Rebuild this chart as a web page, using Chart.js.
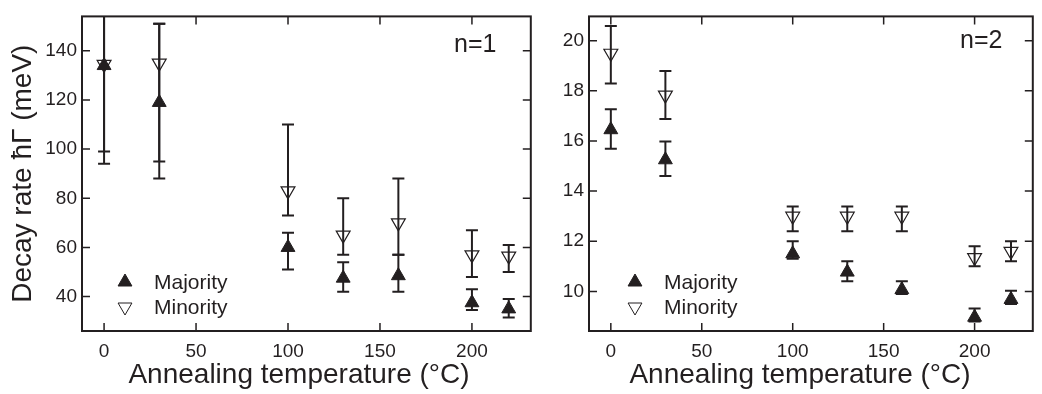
<!DOCTYPE html>
<html><head><meta charset="utf-8">
<script src="https://cdn.jsdelivr.net/npm/chart.js@4.4.0/dist/chart.umd.min.js"></script>
<style>
html,body{margin:0;padding:0;background:#fff;}
#wrap{position:relative;width:1042px;height:394px;overflow:hidden;background:#fff;}
#c1{position:absolute;left:0;top:0;}
#c2{position:absolute;left:540px;top:0;}
</style></head><body>
<div id="wrap"><canvas id="c1" width="540" height="394"></canvas><canvas id="c2" width="502" height="394"></canvas></div>
<script>
// ---- data ----
const temperatures = [0, 30, 100, 130, 160, 200, 220];
const xTickValues = [0, 50, 100, 150, 200];

// n = 1 panel (meV)
const yTickValues1 = [40, 60, 80, 100, 120, 140];
const majority1     = [134, 119, 60, 47.5, 48.5, 37.5, 35];
const majority1Low  = [94, 88, 51, 42, 42, 34.5, 31.5];
const majority1High = [174, 151, 66, 54, 57, 43, 39];
const minority1     = [134.5, 135, 83, 65, 70, 57, 56.5];
const minority1Low  = [99, 95, 73, 57, 57, 48, 50];
const minority1High = [173, 151, 110, 80, 88, 67, 61];

// n = 2 panel (meV)
const yTickValues2 = [10, 12, 14, 16, 18, 20];
const majority2     = [16.45, 15.25, 11.5, 10.77, 10.07, 8.97, 9.68];
const majority2Low  = [15.69, 14.6, 11.3, 10.4, 9.9, 8.8, 9.5];
const majority2High = [17.27, 15.98, 12.0, 11.2, 10.4, 9.32, 10.03];
const minority2     = [19.5, 17.83, 13.0, 13.0, 13.0, 11.35, 11.6];
const minority2Low  = [18.29, 16.88, 12.4, 12.4, 12.4, 11.0, 11.2];
const minority2High = [20.59, 18.79, 13.39, 13.39, 13.39, 11.8, 12.0];

const seriesNames = ['Majority', 'Minority'];
const xTitle = 'Annealing temperature (°C)';
const yTitle = 'Decay rate ħΓ (meV)';

// ---- styling ----
const INK = '#231f20';
const FONT = '"Liberation Sans", Arial, Helvetica, sans-serif';

const pts = (vals) => temperatures.map((t, i) => ({x: t, y: vals[i]}));

const errorBars = {
  id: 'errorBars',
  beforeDatasetsDraw(chart) {
    const {ctx, chartArea: a, scales: {x, y}} = chart;
    ctx.save();
    ctx.beginPath();
    ctx.rect(a.left, a.top, a.right - a.left, a.bottom - a.top);
    ctx.clip();
    ctx.strokeStyle = INK;
    ctx.lineWidth = 2;
    const cap = 6;
    chart.data.datasets.forEach(ds => {
      ds.data.forEach((p, i) => {
        const px = x.getPixelForValue(p.x);
        const y1 = y.getPixelForValue(ds.errLow[i]);
        const y2 = y.getPixelForValue(ds.errHigh[i]);
        ctx.beginPath();
        ctx.moveTo(px, y1); ctx.lineTo(px, y2);
        ctx.moveTo(px - cap, y1); ctx.lineTo(px + cap, y1);
        ctx.moveTo(px - cap, y2); ctx.lineTo(px + cap, y2);
        ctx.stroke();
      });
    });
    ctx.restore();
  }
};

const frameDecor = {
  id: 'frameDecor',
  afterDraw(chart, args, o) {
    const {ctx, chartArea: a, scales: {x, y}} = chart;
    ctx.save();
    ctx.strokeStyle = INK;
    ctx.lineWidth = 1.5;
    const L = 8;
    ctx.beginPath();
    x.ticks.forEach(t => {
      const px = x.getPixelForValue(t.value);
      ctx.moveTo(px, a.bottom); ctx.lineTo(px, a.bottom - L);
      ctx.moveTo(px, a.top); ctx.lineTo(px, a.top + L);
    });
    y.ticks.forEach(t => {
      const py = y.getPixelForValue(t.value);
      ctx.moveTo(a.left, py); ctx.lineTo(a.left + L, py);
      ctx.moveTo(a.right, py); ctx.lineTo(a.right - L, py);
    });
    ctx.stroke();
    ctx.lineWidth = 2;
    ctx.strokeRect(a.left, a.top, a.right - a.left, a.bottom - a.top);

    // panel label
    ctx.fillStyle = INK;
    ctx.font = '25px ' + FONT;
    ctx.textAlign = 'left';
    ctx.textBaseline = 'middle';
    ctx.fillText(o.label, o.labelX, o.labelY);

    // legend
    ctx.font = '21px ' + FONT;
    chart.data.datasets.forEach((ds, i) => {
      const ly = o.legendY + i * 25;
      ctx.fillStyle = ds.pointBackgroundColor;
      ctx.strokeStyle = INK;
      ctx.lineWidth = 1;
      Chart.helpers.drawPoint(ctx, {pointStyle: 'triangle', radius: 8, rotation: ds.pointRotation || 0, borderWidth: 1}, o.legendX, ly);
      ctx.fillStyle = INK;
      ctx.textAlign = 'left';
      ctx.textBaseline = 'middle';
      ctx.fillText(ds.label, o.legendX + 29, ly + 1);
    });

    // x axis title
    ctx.font = '28px ' + FONT;
    ctx.textAlign = 'center';
    ctx.textBaseline = 'alphabetic';
    ctx.fillText(xTitle, o.xTitleX, 383);
    ctx.restore();
  }
};

function makeChart(id, maj, majLo, majHi, mi, miLo, miHi, yTicks, yMin, yMax, yAxisWidth, rightPad, showYTitle, deco) {
  const fixTicks = (vals) => (scale) => { scale.ticks = vals.map(v => ({value: v})); };
  return new Chart(document.getElementById(id), {
    type: 'scatter',
    data: {
      datasets: [
        {label: seriesNames[0], data: pts(maj), errLow: majLo, errHigh: majHi,
         pointStyle: 'triangle', pointRadius: 8, pointHoverRadius: 8,
         pointBackgroundColor: INK, pointBorderColor: INK, pointBorderWidth: 1, showLine: false},
        {label: seriesNames[1], data: pts(mi), errLow: miLo, errHigh: miHi,
         pointStyle: 'triangle', pointRadius: 8, pointHoverRadius: 8, pointRotation: 180,
         pointBackgroundColor: 'rgba(255,255,255,0)', pointBorderColor: INK, pointBorderWidth: 1.2, showLine: false}
      ]
    },
    options: {
      responsive: false, animation: false, devicePixelRatio: 1,
      layout: {padding: {top: 6, right: rightPad, left: 0, bottom: 0}},
      plugins: {legend: {display: false}, tooltip: {enabled: false}, frameDecor: deco},
      scales: {
        x: {
          type: 'linear', min: -12, max: 232,
          afterBuildTicks: fixTicks(xTickValues),
          afterFit: (s) => { s.height = 63; },
          grid: {display: false, drawTicks: false},
          border: {display: false},
          ticks: {color: INK, font: {family: FONT, size: 19}, padding: 9, maxRotation: 0}
        },
        y: {
          type: 'linear', min: yMin, max: yMax,
          afterBuildTicks: fixTicks(yTicks),
          afterFit: (s) => { s.width = yAxisWidth; },
          grid: {display: false, drawTicks: false},
          border: {display: false},
          ticks: {color: INK, font: {family: FONT, size: 19}, padding: 5},
          title: {display: showYTitle, text: yTitle, color: INK, font: {family: FONT, size: 28}, padding: {top: 6, bottom: 0}}
        }
      }
    },
    plugins: [errorBars, frameDecor]
  });
}

makeChart('c1', majority1, majority1Low, majority1High, minority1, minority1Low, minority1High,
  yTickValues1, 26, 154, 82, 5, true,
  {label: 'n=1', labelX: 454, labelY: 45, legendX: 125, legendY: 282, xTitleX: 299});
makeChart('c2', majority2, majority2Low, majority2High, minority2, minority2Low, minority2High,
  yTickValues2, 8.42, 20.97, 49, 1, false,
  {label: 'n=2', labelX: 420, labelY: 41, legendX: 95, legendY: 282, xTitleX: 260});
</script>
</body></html>
